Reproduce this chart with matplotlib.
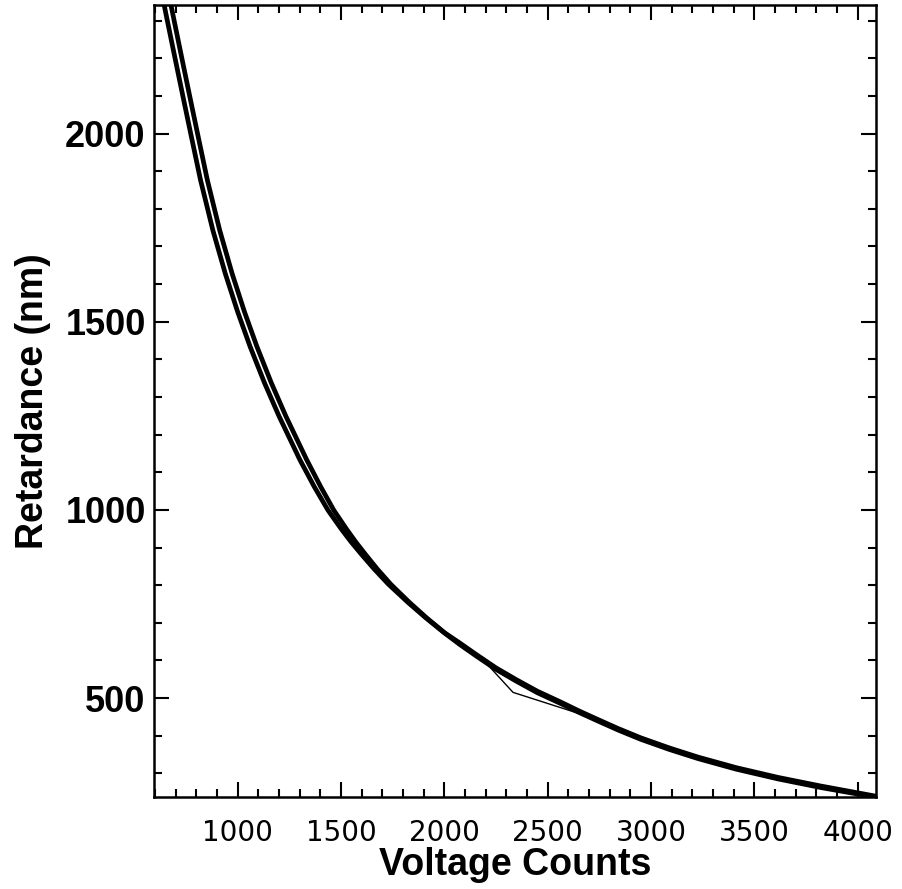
import numpy as np
import matplotlib.pyplot as plt
from matplotlib.ticker import MultipleLocator

# fit curve 1 (starts near the top-left corner)
volts_a = [625, 660, 700, 740, 772, 820, 880, 940, 1000, 1060, 1130, 1200, 1300, 1370,
           1437, 1500, 1550, 1600, 1660, 1730, 1824, 1910, 2000, 2075, 2153, 2250,
           2347, 2450, 2564, 2650, 2734, 2840, 2951, 3090, 3227, 3411, 3614, 3822,
           4049, 4088]
ret_a = [2394, 2299, 2192, 2086, 2002, 1877, 1743, 1628, 1526, 1434, 1337, 1249, 1134, 1062,
         999, 950, 914, 881, 843, 802, 754, 713, 673, 642, 612, 576,
         545, 514, 485, 462, 441, 415, 390, 363, 339, 311, 285, 262,
         240, 237]

# fit curve 2 (a little to the right at the top, joins curve 1 lower down)
volts_b = [658, 693, 733, 773, 805, 853, 913, 973, 1033, 1093, 1163, 1233, 1333, 1401,
           1465, 1525, 1572, 1619, 1675, 1741, 1831, 1914, 2002, 2075, 2153, 2250,
           2347, 2450, 2564, 2650, 2734, 2840, 2951, 3090, 3227, 3411, 3614, 3822,
           4049, 4088]
ret_b = [2394, 2299, 2192, 2086, 2002, 1877, 1743, 1628, 1526, 1434, 1337, 1249, 1134, 1062,
         999, 950, 914, 881, 843, 802, 754, 713, 673, 646, 616, 580,
         549, 518, 489, 466, 445, 419, 394, 367, 343, 315, 289, 266,
         243, 239]

# measured points (thin line)
volts_m = [640, 700, 772, 880, 1000, 1130, 1300, 1437, 1600, 1824, 2000, 2153, 2200,
           2332, 2650, 2840, 3090, 3411, 3822, 4088]
ret_m = [2353, 2192, 2002, 1743, 1526, 1337, 1134, 999, 881, 754, 673, 612, 594,
         515, 459, 415, 363, 311, 262, 237]

plt.rcParams['font.family'] = ['Liberation Sans', 'DejaVu Sans']

fig = plt.figure(figsize=(9.02, 8.89), dpi=100)
ax = fig.add_axes([0.1707, 0.1035, 0.8005, 0.891])

ax.plot(volts_a, ret_a, 'k-', lw=3.4, solid_joinstyle='round')
ax.plot(volts_b, ret_b, 'k-', lw=3.4, solid_joinstyle='round')
ax.plot(volts_m, ret_m, 'k-', lw=1.0)

ax.set_xlim(595, 4088)
ax.set_ylim(237, 2342)

ax.xaxis.set_major_locator(MultipleLocator(500))
ax.xaxis.set_minor_locator(MultipleLocator(100))
ax.yaxis.set_major_locator(MultipleLocator(500))
ax.yaxis.set_minor_locator(MultipleLocator(100))
ax.tick_params(which='both', direction='in', top=True, right=True, width=1.5)
ax.tick_params(which='major', length=11)
ax.tick_params(which='minor', length=6)
ax.tick_params(axis='x', which='major', pad=16)
ax.tick_params(axis='y', which='major', pad=6)

for lab in ax.get_xticklabels():
    lab.set_fontfamily('DejaVu Sans')
    lab.set_fontsize(20)
for lab in ax.get_yticklabels():
    lab.set_fontweight('bold')
    lab.set_fontsize(26)

for s in ax.spines.values():
    s.set_linewidth(1.8)

ax.set_xlabel('Voltage Counts', fontsize=27, fontweight='bold', labelpad=0)
ax.set_ylabel('Retardance (nm)', fontsize=27, fontweight='bold', labelpad=10)

fig.savefig('out.png', dpi=100)
